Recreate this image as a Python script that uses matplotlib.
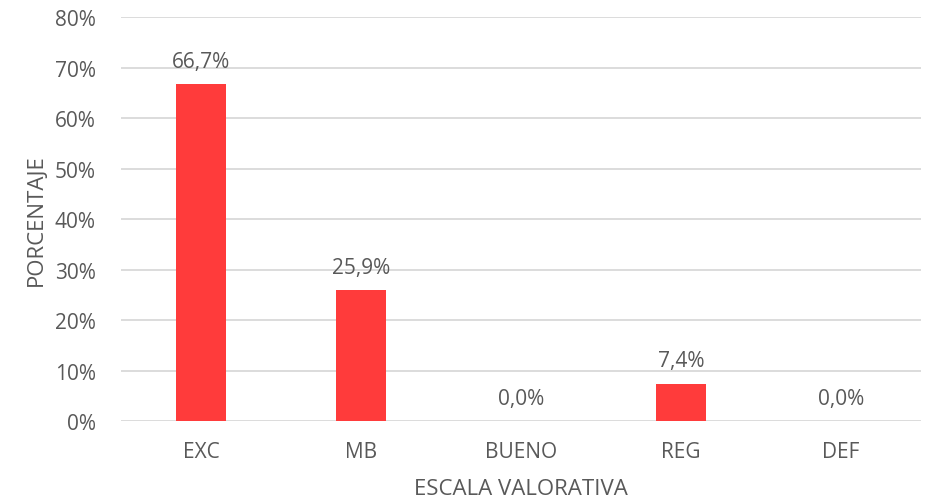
import matplotlib
matplotlib.use("Agg")
import matplotlib.pyplot as plt
from matplotlib.ticker import FuncFormatter

categories = ["EXC", "MB", "BUENO", "REG", "DEF"]
values = [66.7, 25.9, 0.0, 7.4, 0.0]
yticks = [0, 10, 20, 30, 40, 50, 60, 70, 80]

text_color = "#595959"
bar_color = "#FF3B3B"
grid_color = "#D9D9D9"

plt.rcParams["font.family"] = ["Open Sans", "DejaVu Sans"]

fig = plt.figure(figsize=(9.27, 5.02), dpi=100)
ax = fig.add_axes([0.1305, 0.159, 0.863, 0.805])

x = list(range(len(categories)))
ax.bar(x, values, width=0.315, color=bar_color, zorder=3)

for xi, v in zip(x, values):
    ax.annotate(f"{v:.1f}%".replace(".", ","), (xi, v), xytext=(0, 9),
                textcoords="offset points", ha="center", va="bottom",
                fontsize=15, color=text_color)

ax.set_xlim(-0.5, len(categories) - 0.5)
ax.set_ylim(0, 80)
ax.set_yticks(yticks)
ax.yaxis.set_major_formatter(FuncFormatter(lambda v, _: f"{v:.0f}%"))
ax.set_xticks(x)
ax.set_xticklabels(categories)
ax.tick_params(axis="both", length=0, labelsize=15, labelcolor=text_color)
ax.tick_params(axis="x", pad=14)
ax.tick_params(axis="y", pad=18)
ax.grid(axis="y", color=grid_color, linewidth=1.3, zorder=0)
for s in ax.spines.values():
    s.set_visible(False)

ax.set_xlabel("ESCALA VALORATIVA", fontsize=16, color=text_color, labelpad=11.5)
ax.set_ylabel("PORCENTAJE", fontsize=16, color=text_color, labelpad=6)

fig.savefig("out.png", dpi=100)
